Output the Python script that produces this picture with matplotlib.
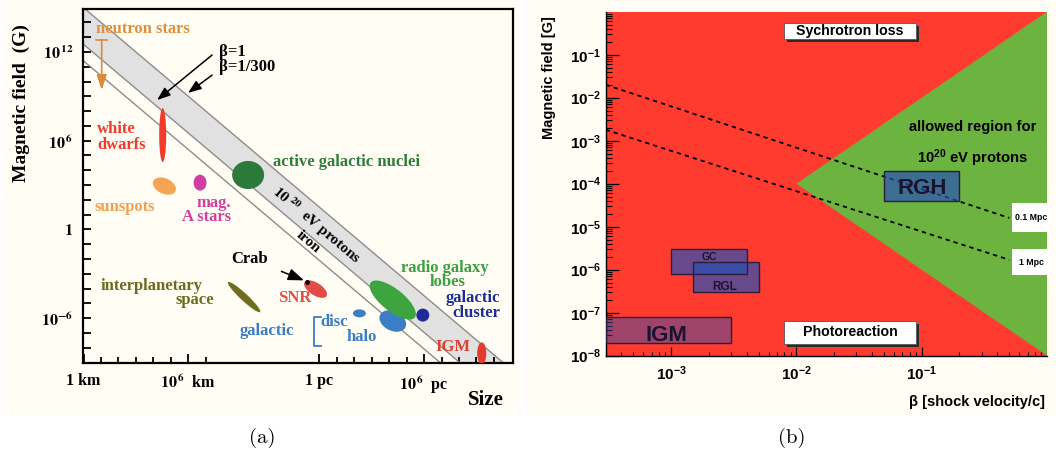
import numpy as np
import matplotlib
matplotlib.use("Agg")
import matplotlib.pyplot as plt
from matplotlib.patches import Ellipse, Rectangle

plt.rcParams['mathtext.fontset'] = 'custom'
plt.rcParams['mathtext.bf'] = 'Liberation Sans:bold'
plt.rcParams['mathtext.rm'] = 'Liberation Sans'
plt.rcParams['mathtext.it'] = 'Liberation Sans:italic'

SERIF = 'Liberation Serif'
SANS = 'Liberation Sans'
CREAM = '#FFFDF4'

# ---------------------------------------------------------------------------
# Panel (a): Hillas diagram, log10(size / km) against log10(B / G)
# ---------------------------------------------------------------------------
PC_KM = np.log10(3.086e13)          # 1 pc expressed in log10(km)

# diagonal lines B*R = const : intercepts of log B = c - log R
band_upper = 15.0                   # 1e20 eV protons, beta = 1
band_lower = 12.52                  # 1e20 eV protons, beta = 1/300
iron_line = 11.4                    # 1e20 eV iron

# source classes (ellipses in log10 units)
src_names = ['white dwarfs', 'sunspots', 'mag. A stars', 'AGN', 'interplanetary',
             'SNR', 'disc', 'halo', 'radio lobes', 'cluster', 'IGM']
src_logR = [4.53, 4.63, 6.67, 9.42, 9.19, 13.28, 15.79, 17.70, 17.70, 19.42, 22.79]
src_logB = [6.38, 2.93, 3.16, 3.68, -4.58, -4.04, -5.68, -6.20, -4.78, -5.80, -8.39]
src_w = [0.40, 1.45, 0.74, 1.83, 2.73, 1.58, 0.74, 1.70, 3.47, 0.74, 0.52]
src_h = [3.65, 1.00, 1.08, 1.90, 0.45, 0.80, 0.54, 1.25, 1.40, 0.88, 1.49]
src_angle = [0, -35, 0, 0, -48, -40, 0, -40, -45, 0, 0]
src_color = ['#F23B2B', '#F5A456', '#CF3FA3', '#2B7A3A', '#6E6E1E', '#E24B48',
             '#3C7EC6', '#3C7EC6', '#3DA43F', '#1F2B98', '#E23A2C']

neutron_logR = 1.04
neutron_logB = [12.81, 9.43]        # upper cap, arrow tip

crab_logR, crab_logB = 12.79, -3.56

y_major = [12, 6, 0, -6]
y_major_labels = [r'$\mathbf{10}^{\,\mathbf{12}}$', r'$\mathbf{10}^{\,\mathbf{6}}$',
                  r'$\mathbf{1}$', r'$\mathbf{10}^{\mathbf{-6}}$']
y_minor = [v for v in range(-8, 15) if v not in y_major]
x_major = [0, 6, PC_KM, PC_KM + 6]
x_major_labels = ['1 km', r'$\mathbf{10}^{\,\mathbf{6}}$  km', '1 pc',
                  r'$\mathbf{10}^{\,\mathbf{6}}$  pc']
x_minor = [1, 2, 3, 4, 5, 7] + [PC_KM + k for k in (1, 2, 3, 4, 5, 7, 8, 9, 10)]

# ---------------------------------------------------------------------------
# Panel (b): allowed region in the (beta, B) plane
# ---------------------------------------------------------------------------
allowed_beta = [0.01, 1.0, 1.0]
allowed_B = [1e-4, 1.0, 1e-8]

mpc01_beta, mpc01_B = [3e-4, 0.5], [2.0e-2, 1.6e-5]
mpc1_beta, mpc1_B = [3e-4, 0.5], [1.8e-3, 1.7e-6]

box_names = ['IGM', 'GC', 'RGL', 'RGH']
box_beta_lo = [3e-4, 1.0e-3, 1.5e-3, 0.05]
box_beta_hi = [3e-3, 4.0e-3, 5.0e-3, 0.20]
box_B_lo = [2e-8, 8e-7, 3e-7, 4e-5]
box_B_hi = [8e-8, 3e-6, 1.5e-6, 2e-4]
box_alpha = [0.45, 0.70, 0.70, 0.70]
box_label_beta = [9.2e-4, 2.0e-3, 2.66e-3, 0.101]
box_label_B = [3.0e-8, 2.0e-6, 4.0e-7, 7.9e-5]
box_label_size = [16, 7.5, 8.5, 16]

RED = '#FE3B2E'
GREEN = '#6DB33F'
BOX_BLUE = '#2950B4'

# ---------------------------------------------------------------------------
fig = plt.figure(figsize=(10.56, 4.57), dpi=100)
W, H = 1056.0, 457.0
fig.patches.append(Rectangle((5 / W, 1 - 413 / H), 513 / W, 413 / H,
                             transform=fig.transFigure, color=CREAM, zorder=-10))
fig.patches.append(Rectangle((527 / W, 1 - 413 / H), 529 / W, 413 / H,
                             transform=fig.transFigure, color=CREAM, zorder=-10))

# ======================= panel (a) =======================
ax = fig.add_axes([83 / W, 1 - 363 / H, 430 / W, 354 / H])
ax.set_facecolor(CREAM)
ax.set_xlim(-0.03, 24.58)
ax.set_ylim(-9.04, 14.91)
for s in ax.spines.values():
    s.set_linewidth(1.6)

xx = np.array([-2.0, 27.0])
ax.fill_between(xx, band_lower - xx, band_upper - xx, color='#E1E1E1', zorder=1, lw=0)
for c in (band_upper, band_lower, iron_line):
    ax.plot(xx, c - xx, color='#8C8C8C', lw=1.0, zorder=2)

for r, b, w, h, a, col in zip(src_logR, src_logB, src_w, src_h, src_angle, src_color):
    ax.add_patch(Ellipse((r, b), w, h, angle=a, facecolor=col, edgecolor='none', zorder=3))

ax.plot([crab_logR], [crab_logB], 'o', color='black', ms=2.5, zorder=4)

# neutron stars: upper limit arrow
ns_col = '#D98A3C'
ax.plot([neutron_logR - 0.3, neutron_logR + 0.3], [neutron_logB[0]] * 2, color=ns_col, lw=1.2)
ax.annotate('', xy=(neutron_logR, neutron_logB[1]), xytext=(neutron_logR, neutron_logB[0]),
            arrowprops=dict(arrowstyle='-|>,head_width=0.3,head_length=0.9',
                            color=ns_col, lw=1.2, shrinkA=0, shrinkB=0))

lab = dict(fontfamily=SERIF, fontweight='bold', fontsize=12, ha='center', va='center',
           math_fontfamily='stix')
left = {**lab, 'ha': 'left'}
right = {**lab, 'ha': 'right'}
ax.text(3.41, 13.56, 'neutron stars', color='#E0903A', **lab)
ax.text(0.78, 6.79, 'white', color='#F03A30', **left)
ax.text(0.78, 5.71, 'dwarfs', color='#F03A30', **left)
ax.text(2.38, 1.51, 'sunspots', color='#F2A050', **lab)
ax.text(8.44, 1.78, 'mag.', color='#D040A0', **right)
ax.text(8.44, 0.84, 'A stars', color='#D040A0', **right)
ax.text(10.85, 4.56, 'active galactic nuclei', color='#2E7D3A', **left)
ax.text(3.92, -3.83, 'interplanetary', color='#6B6B1E', **lab)
ax.text(6.38, -4.78, 'space', color='#6B6B1E', **lab)
ax.text(12.08, -4.64, 'SNR', color='#E0504A', **lab)
ax.text(10.50, -6.88, 'galactic', color='#3C7CC4', **lab)
ax.text(13.53, -6.27, 'disc', color='#3C7CC4', **left)
ax.text(15.94, -7.28, 'halo', color='#3C7CC4', **lab)
ax.text(20.69, -2.58, 'radio galaxy', color='#3CA040', **lab)
ax.text(20.86, -3.58, 'lobes', color='#3CA040', **lab)
ax.text(23.84, -4.66, 'galactic', color='#1E2C96', **right)
ax.text(23.84, -5.66, 'cluster', color='#1E2C96', **right)
ax.text(21.15, -7.96, 'IGM', color='#E0402E', **lab)
ax.text(7.76, 12.0, 'β=1', color='black', **left)
ax.text(7.76, 10.99, 'β=1/300', color='black', **left)
ax.text(13.34, 0.30, r'$\mathbf{10}^{\ \mathbf{20}}$  eV protons', rotation=-40.2,
        rotation_mode='anchor', color='black', **{**lab, 'fontsize': 11})
ax.text(12.85, -0.86, 'iron', rotation=-40.2, rotation_mode='anchor', color='black',
        **{**lab, 'fontsize': 11})

# disc / halo bracket
ax.plot([13.6, 13.19, 13.19, 13.6], [-5.93, -5.93, -7.89, -7.89], color='#3C7CC4', lw=1.3)

arrow_kw = dict(arrowstyle='-|>,head_width=0.3,head_length=0.8', color='black', lw=1.1,
                shrinkA=0, shrinkB=0)
ax.annotate('', xy=(4.21, 8.75), xytext=(7.36, 11.8), arrowprops=arrow_kw)
ax.annotate('', xy=(5.98, 9.23), xytext=(7.36, 10.44), arrowprops=arrow_kw)
ax.annotate('Crab', xy=(12.62, -3.45), xytext=(9.53, -2.0), color='black',
            arrowprops={**arrow_kw, 'shrinkA': 8}, **lab)

ax.set_yticks(y_major, y_major_labels, math_fontfamily='stix', fontfamily=SERIF,
              fontweight='bold', fontsize=11.5)
ax.set_yticks(y_minor, minor=True)
ax.set_xticks(x_major, x_major_labels, math_fontfamily='stix', fontfamily=SERIF,
              fontweight='bold', fontsize=11.5)
ax.set_xticks(x_minor, minor=True)
ax.tick_params(axis='y', which='both', direction='in', length=6, width=1.3, pad=7)
ax.tick_params(axis='x', which='major', direction='in', length=6.5, width=1.3, pad=7)
ax.tick_params(axis='x', which='minor', direction='in', length=4.3, width=1.3)

fig.text(21 / W, 1 - 103 / H, 'Magnetic field  (G)', rotation=90, ha='center', va='center',
         fontfamily=SERIF, fontweight='bold', fontsize=14)
fig.text(486 / W, 1 - 400 / H, 'Size', ha='center', va='center',
         fontfamily=SERIF, fontweight='bold', fontsize=15)

# ======================= panel (b) =======================
bx = fig.add_axes([605.7 / W, 1 - 355.7 / H, 441.3 / W, 344 / H])
bx.set_xscale('log')
bx.set_yscale('log')
bx.set_xlim(3e-4, 1.0)
bx.set_ylim(1e-8, 1.0)
bx.set_facecolor(RED)
bx.fill(allowed_beta, allowed_B, color=GREEN, lw=0, zorder=1)
for s in ('top', 'right'):
    bx.spines[s].set_visible(False)
for s in ('left', 'bottom'):
    bx.spines[s].set_linewidth(1.0)

bx.plot(mpc01_beta, mpc01_B, color='black', lw=1.3, ls=(0, (2.4, 2.2)), zorder=2)
bx.plot(mpc1_beta, mpc1_B, color='black', lw=1.3, ls=(0, (2.4, 2.2)), zorder=2)

for bl, bh, Bl, Bh, al in zip(box_beta_lo, box_beta_hi, box_B_lo, box_B_hi, box_alpha):
    bx.add_patch(Rectangle((bl, Bl), bh - bl, Bh - Bl, facecolor=BOX_BLUE, alpha=al,
                           edgecolor='none', zorder=3))
    bx.add_patch(Rectangle((bl, Bl), bh - bl, Bh - Bl, facecolor='none',
                           edgecolor='#2A1E3A', lw=1.0, zorder=4))
for name, xb, yb, fs in zip(box_names, box_label_beta, box_label_B, box_label_size):
    bx.text(xb, yb, name, ha='center', va='center', fontfamily=SANS, fontweight='bold',
            fontsize=fs, color='#1A1430', zorder=5)

# labelled white boxes with drop shadow (axes fractions)
note_text = ['Sychrotron loss', 'Photoreaction']
note_x0, note_x1 = [0.404, 0.404], [0.703, 0.703]
note_y0, note_y1 = [0.920, 0.034], [0.968, 0.102]
for t, x0, x1, y0, y1 in zip(note_text, note_x0, note_x1, note_y0, note_y1):
    bx.add_patch(Rectangle((x0 + 0.007, y0 - 0.009), x1 - x0, y1 - y0,
                           transform=bx.transAxes, facecolor='#2A2A2A', lw=0, zorder=6))
    bx.add_patch(Rectangle((x0, y0), x1 - x0, y1 - y0, transform=bx.transAxes,
                           facecolor='white', edgecolor='#555555', lw=0.6, zorder=7))
    bx.text((x0 + x1) / 2, (y0 + y1) / 2, t, transform=bx.transAxes, ha='center',
            va='center', fontfamily=SANS, fontweight='bold', fontsize=10.2, zorder=8)

bx.text(0.832, 0.665, 'allowed region for', transform=bx.transAxes, ha='center',
        va='center', fontfamily=SANS, fontweight='bold', fontsize=10.6, zorder=8)
bx.text(0.832, 0.575, r'$\mathbf{10^{20}}$ eV protons', transform=bx.transAxes,
        ha='center', va='center', fontfamily=SANS, fontweight='bold', fontsize=10.6,
        zorder=8)

mpc_text = ['0.1 Mpc', '1 Mpc']
mpc_yc = [0.402, 0.272]
mpc_h = [0.084, 0.076]
for t, yc, hh in zip(mpc_text, mpc_yc, mpc_h):
    bx.add_patch(Rectangle((0.921, yc - hh / 2), 0.086, hh, transform=bx.transAxes,
                           facecolor='white', edgecolor='none', zorder=6, clip_on=False))
    bx.text(0.964, yc, t, transform=bx.transAxes, ha='center', va='center',
            fontfamily=SANS, fontweight='bold', fontsize=6.3, zorder=8, clip_on=False)

y_ticks_b = [10.0 ** k for k in range(-8, 0)]
bx.set_yticks(y_ticks_b, [r'$\mathbf{10^{%d}}$' % k for k in range(-8, 0)], fontsize=11)
bx.set_xticks([1e-3, 1e-2, 1e-1], [r'$\mathbf{10^{%d}}$' % k for k in (-3, -2, -1)],
              fontsize=11)
bx.set_yticks([m * 10.0 ** k for k in range(-8, 0) for m in range(2, 10)], minor=True)
bx.set_xticks([m * 10.0 ** k for k in range(-4, 0) for m in range(2, 10)
               if 3e-4 <= m * 10.0 ** k <= 1.0], minor=True)
bx.tick_params(which='minor', labelleft=False, labelbottom=False)
bx.tick_params(axis='y', which='major', direction='in', length=9.5, width=0.9, pad=3.5)
bx.tick_params(axis='y', which='minor', direction='in', length=4.3, width=0.8)
bx.tick_params(axis='x', which='major', direction='in', length=6.5, width=0.9, pad=6.5)
bx.tick_params(axis='x', which='minor', direction='in', length=3.0, width=0.8)

fig.text(549 / W, 1 - 78 / H, 'Magnetic field [G]', rotation=90, ha='center',
         va='center', fontfamily=SANS, fontweight='bold', fontsize=10.5)
fig.text(1045 / W, 1 - 402 / H, 'β [shock velocity/c]', ha='right', va='center',
         fontfamily=SANS, fontweight='bold', fontsize=10.5)

# captions
fig.text(262 / W, 1 - 438 / H, '(a)', ha='center', va='center', fontfamily='cmr10',
         fontsize=15)
fig.text(792 / W, 1 - 438 / H, '(b)', ha='center', va='center', fontfamily='cmr10',
         fontsize=15)

fig.savefig('out.png', dpi=100, facecolor='white')
